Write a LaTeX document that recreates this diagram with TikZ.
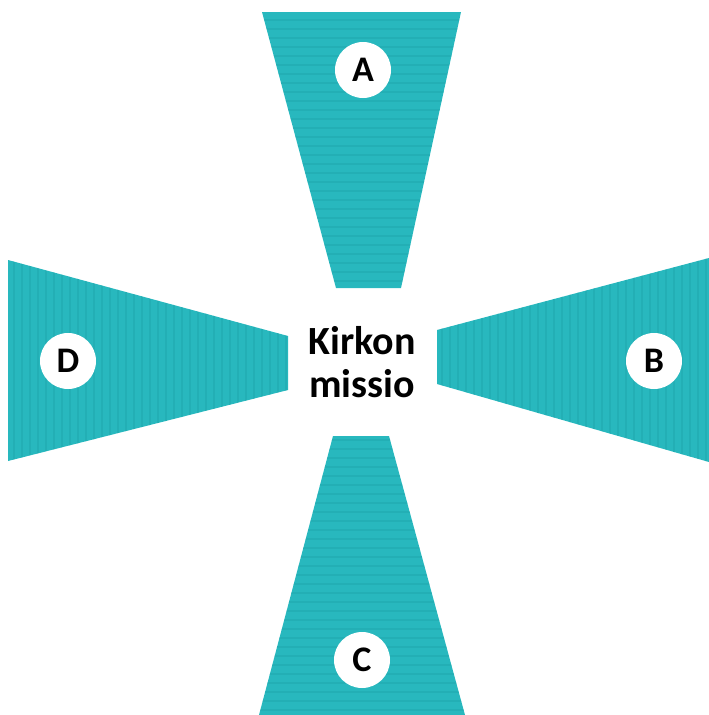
\documentclass[tikz,border=0pt]{standalone}
\usepackage{fontspec}
\setmainfont{Carlito}
\definecolor{teal1}{RGB}{40,184,190}
\definecolor{teal2}{RGB}{28,160,166}
\tikzset{
  wedge/.style={fill=teal1},
  stripe/.style={draw=teal2, line width=2pt, opacity=0.35},
  badge/.style={circle, fill=white, minimum size=56pt, inner sep=0pt, font=\fontsize{36}{36}\selectfont\bfseries},
  title/.style={align=center, font=\fontsize{40}{43}\selectfont\bfseries}
}
\begin{document}
\begin{tikzpicture}[x=1pt,y=-1pt]
\useasboundingbox (0,0) rectangle (709,715);
% A (top)
\fill[wedge] (262,12) -- (461,12) -- (401,288) -- (336,288) -- cycle;
\begin{scope}
\clip (262,12) -- (461,12) -- (401,288) -- (336,288) -- cycle;
\foreach \y in {20,29,...,290} \draw[stripe] (250,\y) -- (470,\y);
\end{scope}
% C (bottom)
\fill[wedge] (333,436) -- (389,436) -- (465,715) -- (259,715) -- cycle;
\begin{scope}
\clip (333,436) -- (389,436) -- (465,715) -- (259,715) -- cycle;
\foreach \y in {440,449,...,715} \draw[stripe] (250,\y) -- (470,\y);
\end{scope}
% D (left)
\fill[wedge] (8,260) -- (288,336) -- (288,390) -- (8,461) -- cycle;
\begin{scope}
\clip (8,260) -- (288,336) -- (288,390) -- (8,461) -- cycle;
\foreach \x in {14,22,...,290} \draw[stripe] (\x,250) -- (\x,470);
\end{scope}
% B (right)
\fill[wedge] (437,330) -- (709,258) -- (709,462) -- (437,384) -- cycle;
\begin{scope}
\clip (437,330) -- (709,258) -- (709,462) -- (437,384) -- cycle;
\foreach \x in {442,450,...,709} \draw[stripe] (\x,250) -- (\x,470);
\end{scope}
% badges
\node[badge] (a) at (363,70) {A};
\node[badge] (b) at (654,361) {B};
\node[badge] (c) at (362,660) {C};
\node[badge] (d) at (68,361) {D};
% centre
\node[title] (mission) at (362,362) {Kirkon\\missio};
\end{tikzpicture}
\end{document}
